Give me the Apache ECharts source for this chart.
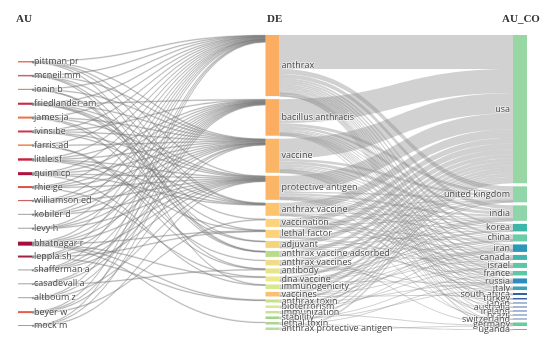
<!DOCTYPE html>
<html><head><meta charset="utf-8">
<script src="https://cdn.jsdelivr.net/npm/echarts@6/dist/echarts.min.js"></script>
<style>html,body{margin:0;padding:0;background:#fff}#c{width:550px;height:344px}</style>
</head><body><div id="c"></div>
<script>
const authors = ['pittman pr','mcneil mm','ionin b','friedlander am','james ja','ivins be','farris ad','little sf','quinn cp','rhie ge','williamson ed','kobiler d','levy h','bhatnagar r','leppla sh','shafferman a','casadevall a','altboum z','beyer w','mock m'];
const keywords = ['anthrax','bacillus anthracis','vaccine','protective antigen','anthrax vaccine','vaccination','lethal factor','adjuvant','anthrax vaccine adsorbed','anthrax vaccines','antibody','dna vaccine','immunogenicity','vaccines','anthrax toxin','bioterrorism','immunization','stability','lethal toxin','anthrax protective antigen'];
const countries = ['usa','united kingdom','india','korea','china','iran','canada','israel','france','russia','italy','south africa','turkey','japan','australia','ireland','brazil','switzerland','germany','uganda'];

// author -> keyword
const authorKeywordLinks = [
 ['pittman pr','anthrax',0.3],['pittman pr','vaccine',0.3],['pittman pr','protective antigen',0.3],['pittman pr','anthrax vaccine',0.3],['pittman pr','anthrax vaccine adsorbed',0.3],
 ['mcneil mm','anthrax',0.3],['mcneil mm','vaccine',0.3],['mcneil mm','anthrax vaccine',0.3],['mcneil mm','anthrax vaccine adsorbed',0.3],['mcneil mm','immunogenicity',0.3],
 ['ionin b','anthrax',0.3],['ionin b','vaccine',0.3],['ionin b','adjuvant',0.3],['ionin b','anthrax vaccine adsorbed',0.3],
 ['friedlander am','anthrax',0.3],['friedlander am','bacillus anthracis',0.3],['friedlander am','vaccine',0.3],['friedlander am','protective antigen',0.3],['friedlander am','anthrax vaccine',0.3],['friedlander am','vaccination',0.3],['friedlander am','lethal factor',0.3],
 ['james ja','anthrax',0.4],['james ja','vaccine',0.4],['james ja','protective antigen',0.4],['james ja','adjuvant',0.4],['james ja','antibody',0.4],
 ['ivins be','anthrax',0.4],['ivins be','bacillus anthracis',0.4],['ivins be','vaccine',0.4],['ivins be','protective antigen',0.4],['ivins be','anthrax vaccine',0.4],
 ['farris ad','anthrax',0.4],['farris ad','vaccine',0.4],['farris ad','anthrax vaccines',0.4],['farris ad','antibody',0.4],
 ['little sf','anthrax',0.4],['little sf','bacillus anthracis',0.4],['little sf','vaccine',0.4],['little sf','protective antigen',0.4],['little sf','anthrax vaccine',0.4],['little sf','lethal factor',0.4],
 ['quinn cp','anthrax',0.5],['quinn cp','bacillus anthracis',0.5],['quinn cp','vaccine',0.5],['quinn cp','protective antigen',0.5],['quinn cp','anthrax vaccine',0.5],['quinn cp','immunogenicity',0.5],
 ['rhie ge','anthrax',0.4],['rhie ge','bacillus anthracis',0.4],['rhie ge','vaccine',0.4],['rhie ge','protective antigen',0.4],['rhie ge','dna vaccine',0.4],
 ['williamson ed','anthrax',0.3],['williamson ed','bacillus anthracis',0.3],['williamson ed','vaccine',0.3],['williamson ed','protective antigen',0.3],
 ['kobiler d','anthrax',0.25],['kobiler d','bacillus anthracis',0.25],['kobiler d','vaccine',0.25],['kobiler d','protective antigen',0.25],
 ['levy h','anthrax',0.25],['levy h','bacillus anthracis',0.25],['levy h','vaccine',0.25],['levy h','protective antigen',0.25],
 ['bhatnagar r','anthrax',0.5],['bhatnagar r','bacillus anthracis',0.5],['bhatnagar r','vaccine',0.5],['bhatnagar r','protective antigen',0.5],['bhatnagar r','lethal factor',0.5],['bhatnagar r','dna vaccine',0.5],['bhatnagar r','anthrax toxin',0.5],['bhatnagar r','lethal toxin',0.5],
 ['leppla sh','anthrax',0.4],['leppla sh','bacillus anthracis',0.4],['leppla sh','protective antigen',0.4],['leppla sh','lethal factor',0.4],['leppla sh','anthrax toxin',0.4],
 ['shafferman a','anthrax',0.25],['shafferman a','bacillus anthracis',0.25],['shafferman a','vaccine',0.25],['shafferman a','protective antigen',0.25],
 ['casadevall a','bacillus anthracis',0.33],['casadevall a','vaccine',0.33],['casadevall a','antibody',0.33],
 ['altboum z','anthrax',0.33],['altboum z','bacillus anthracis',0.33],['altboum z','protective antigen',0.33],
 ['beyer w','anthrax',0.5],['beyer w','bacillus anthracis',0.5],['beyer w','vaccine',0.5],['beyer w','vaccination',0.5],
 ['mock m','anthrax',0.33],['mock m','bacillus anthracis',0.33],['mock m','protective antigen',0.33]
];

// keyword -> country
const keywordCountryLinks = [
 ['anthrax','usa',34],['anthrax','united kingdom',5],['anthrax','india',4],['anthrax','korea',2],['anthrax','china',2],['anthrax','iran',2],['anthrax','canada',1.5],['anthrax','israel',1.5],['anthrax','france',1.5],['anthrax','russia',1.5],['anthrax','italy',1],['anthrax','south africa',1],['anthrax','turkey',0.5],['anthrax','japan',0.5],['anthrax','australia',0.5],['anthrax','ireland',0.5],['anthrax','brazil',0.5],['anthrax','switzerland',0.5],['anthrax','germany',0.5],['anthrax','uganda',0.5],
 ['bacillus anthracis','usa',24],['bacillus anthracis','united kingdom',3],['bacillus anthracis','india',2.5],['bacillus anthracis','korea',1],['bacillus anthracis','china',1],['bacillus anthracis','iran',1],['bacillus anthracis','canada',0.5],['bacillus anthracis','israel',0.5],['bacillus anthracis','france',0.5],['bacillus anthracis','russia',0.5],['bacillus anthracis','italy',0.5],['bacillus anthracis','turkey',0.5],['bacillus anthracis','germany',0.5],['bacillus anthracis','japan',0.5],
 ['vaccine','usa',20],['vaccine','united kingdom',2.5],['vaccine','india',3],['vaccine','korea',1.5],['vaccine','china',1],['vaccine','iran',1],['vaccine','canada',1],['vaccine','israel',0.5],['vaccine','france',0.5],['vaccine','russia',0.5],['vaccine','italy',0.5],['vaccine','south africa',0.5],['vaccine','germany',0.5],['vaccine','australia',0.5],['vaccine','brazil',0.5],
 ['protective antigen','usa',16],['protective antigen','united kingdom',1.5],['protective antigen','india',2],['protective antigen','korea',1],['protective antigen','china',0.5],['protective antigen','iran',0.5],['protective antigen','canada',0.5],['protective antigen','israel',0.5],['protective antigen','france',0.5],['protective antigen','russia',0.5],['protective antigen','ireland',0.5],
 ['anthrax vaccine','usa',8.5],['anthrax vaccine','united kingdom',1],['anthrax vaccine','india',1],['anthrax vaccine','korea',0.5],['anthrax vaccine','israel',0.5],['anthrax vaccine','france',0.5],['anthrax vaccine','italy',0.5],['anthrax vaccine','switzerland',0.5],
 ['vaccination','usa',5.5],['vaccination','united kingdom',0.5],['vaccination','india',0.5],['vaccination','china',0.5],['vaccination','iran',0.5],['vaccination','canada',0.5],
 ['lethal factor','usa',6],['lethal factor','united kingdom',0.5],['lethal factor','china',0.5],['lethal factor','russia',0.5],['lethal factor','israel',0.5],
 ['adjuvant','usa',5],['adjuvant','india',0.5],['adjuvant','korea',0.5],['adjuvant','iran',0.5],['adjuvant','france',0.5],
 ['anthrax vaccine adsorbed','usa',4],['anthrax vaccine adsorbed','united kingdom',0.5],['anthrax vaccine adsorbed','canada',0.5],['anthrax vaccine adsorbed','germany',1],
 ['anthrax vaccines','usa',3.5],['anthrax vaccines','united kingdom',0.5],['anthrax vaccines','india',0.5],['anthrax vaccines','italy',0.5],['anthrax vaccines','turkey',0.5],
 ['antibody','usa',3.5],['antibody','india',0.5],['antibody','korea',0.5],['antibody','china',0.5],
 ['dna vaccine','usa',2.5],['dna vaccine','india',0.5],['dna vaccine','korea',0.5],['dna vaccine','china',0.5],['dna vaccine','iran',0.5],['dna vaccine','russia',0.5],
 ['immunogenicity','usa',3],['immunogenicity','united kingdom',0.5],['immunogenicity','canada',0.5],['immunogenicity','iran',0.5],
 ['vaccines','usa',2.5],['vaccines','india',0.5],['vaccines','iran',0.5],['vaccines','israel',0.5],['vaccines','south africa',0.5],
 ['anthrax toxin','usa',2],['anthrax toxin','china',0.5],['anthrax toxin','russia',0.5],
 ['bioterrorism','usa',1.5],['bioterrorism','united kingdom',0.5],['bioterrorism','israel',0.5],
 ['immunization','usa',1.5],['immunization','iran',0.5],['immunization','germany',0.5],
 ['stability','usa',1.5],['stability','france',0.5],['stability','italy',0.5],
 ['lethal toxin','usa',1.5],['lethal toxin','russia',0.5],['lethal toxin','uganda',0.5],
 ['anthrax protective antigen','usa',2],['anthrax protective antigen','germany',0.5]
];

const authorColors = ['#e07a5c','#c4646e','#e48a62','#c82a40','#f2703f','#d0344a','#f28a52','#c8223e','#b0123c','#e0503e','#c86464','#a0a0a0','#a0a0a0','#a80e3a','#a22244','#a0a0a0','#a0a0a0','#a0a0a0','#e46048','#a0a0a0'];
const keywordColors = ['#fbad62','#fbad62','#fbb566','#fbb566','#fdc470','#fdd27a','#fdd27a','#f4d47c','#b9dc88','#f0dc86','#e8e48a','#eee88a','#d8e88c','#fdbf6f','#c6e08a','#d6ea8c','#c6e29a','#a2d28c','#a8d68e','#b8dc9c'];
const countryColors = ['#98d6a4','#90d6a8','#8ed6aa','#3cb6a8','#6ccca8','#2a98b8','#40b6ae','#5ac8a6','#5ac8a6','#2a8ec0','#38a6b8','#3262a8','#3b5ea8','#5070b0','#5070b0','#5070b0','#5878b0','#6080b0','#66cc99','#a0a0a0'];

const TOP = 35, BOTTOM = 14, H = 344 - TOP - BOTTOM;
const firstY = 62, lastY = 326;
const nodes = [];
authors.forEach((n, i) => nodes.push({
  name: n, depth: 0, itemStyle: {color: authorColors[i]},
  localY: (firstY + i * (lastY - firstY) / (authors.length - 1) - TOP - 1) / H
}));
keywords.forEach((n, i) => nodes.push({name: n, depth: 1, itemStyle: {color: keywordColors[i]}}));
countries.forEach((n, i) => nodes.push({name: n, depth: 2, itemStyle: {color: countryColors[i]}}));

const links = [];
authorKeywordLinks.forEach(([s, t, v]) => links.push({source: s, target: t, value: v,
  lineStyle: {color: '#777', borderColor: '#777', borderWidth: 0.35, opacity: 0.45}}));
keywordCountryLinks.forEach(([s, t, v]) => links.push({source: s, target: t, value: v}));

const titleStyle = {fontFamily: 'Liberation Serif', fontWeight: 'bold', fontSize: 11, color: '#333'};
const chart = echarts.init(document.getElementById('c'), null, {renderer: 'canvas'});
chart.setOption({
  animation: false,
  title: [
    {text: 'AU', left: 11, top: 9, textStyle: titleStyle},
    {text: 'DE', left: 262, top: 9, textStyle: titleStyle},
    {text: 'AU_CO', left: 497, top: 9, textStyle: titleStyle}
  ],
  series: [{
    type: 'sankey',
    left: 18, top: TOP, right: 23, bottom: BOTTOM,
    nodeWidth: 14, nodeGap: 3, layoutIterations: 0, draggable: false,
    data: nodes, links: links,
    lineStyle: {color: '#8c8c8c', opacity: 0.4, curveness: 0.5},
    itemStyle: {borderWidth: 0},
    emphasis: {disabled: true},
    label: {fontSize: 9, fontFamily: 'Open Sans', color: '#444',
      textBorderColor: 'rgba(255,255,255,0.6)', textBorderWidth: 1.5},
    levels: [
      {depth: 0, label: {position: 'right', distance: 2}},
      {depth: 1, label: {position: 'right', distance: 2}},
      {depth: 2, label: {position: 'left', distance: 3}}
    ]
  }]
});
</script></body></html>
